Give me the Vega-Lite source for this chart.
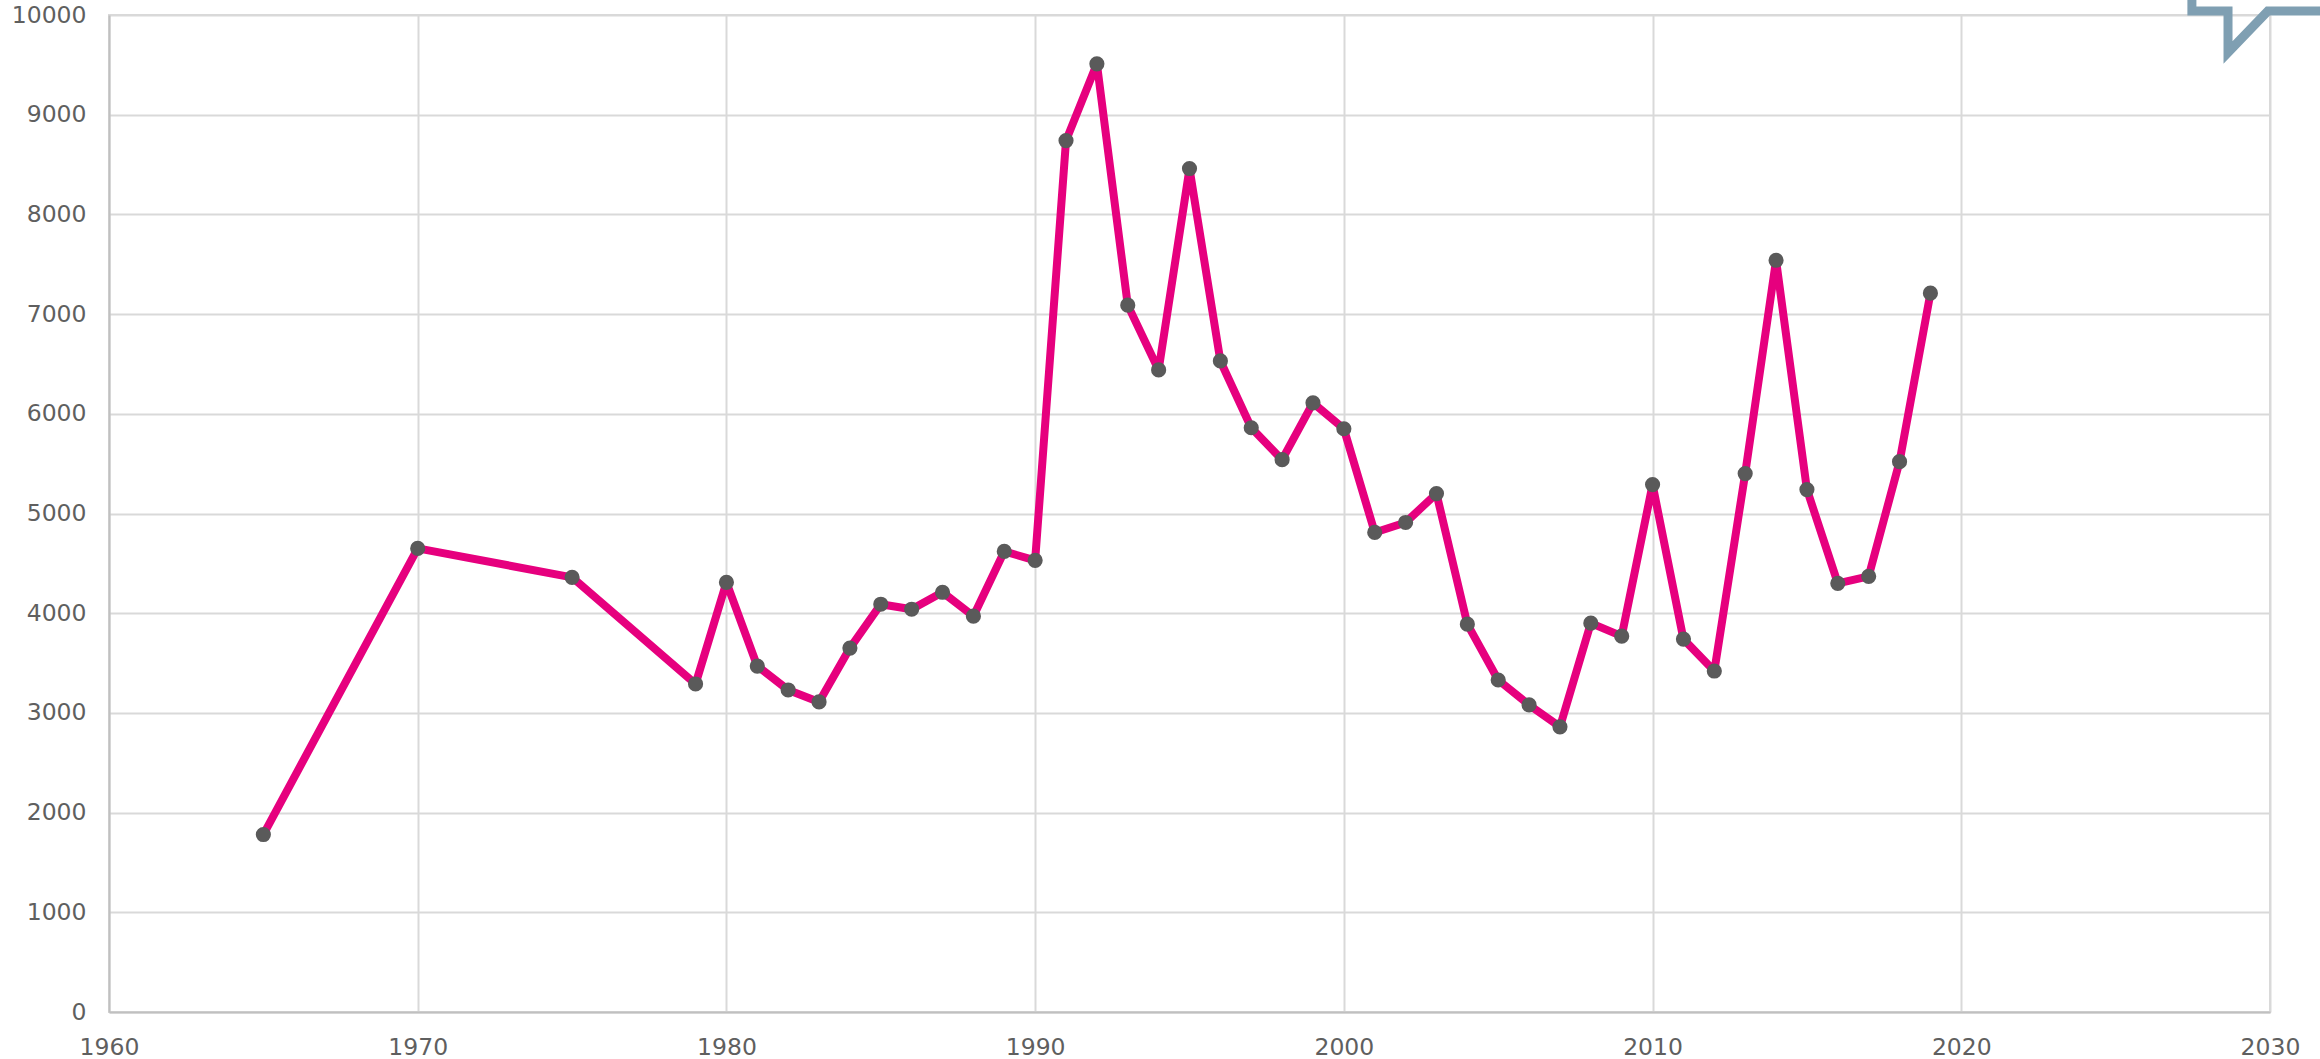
{"$schema":"https://vega.github.io/schema/vega-lite/v6.json","width":2161,"height":997,"autosize":"none","padding":{"left":109,"top":15,"right":50,"bottom":47},"background":"white","config":{"view":{"stroke":"#d9d9d9","strokeWidth":2}},"datasets":{"series":[{"year":1965,"value":1780},{"year":1970,"value":4650},{"year":1975,"value":4360},{"year":1979,"value":3290},{"year":1980,"value":4310},{"year":1981,"value":3470},{"year":1982,"value":3230},{"year":1983,"value":3110},{"year":1984,"value":3650},{"year":1985,"value":4090},{"year":1986,"value":4040},{"year":1987,"value":4210},{"year":1988,"value":3970},{"year":1989,"value":4620},{"year":1990,"value":4530},{"year":1991,"value":8740},{"year":1992,"value":9510},{"year":1993,"value":7090},{"year":1994,"value":6440},{"year":1995,"value":8460},{"year":1996,"value":6530},{"year":1997,"value":5860},{"year":1998,"value":5540},{"year":1999,"value":6110},{"year":2000,"value":5850},{"year":2001,"value":4810},{"year":2002,"value":4910},{"year":2003,"value":5200},{"year":2004,"value":3890},{"year":2005,"value":3330},{"year":2006,"value":3080},{"year":2007,"value":2860},{"year":2008,"value":3900},{"year":2009,"value":3770},{"year":2010,"value":5290},{"year":2011,"value":3740},{"year":2012,"value":3420},{"year":2013,"value":5400},{"year":2014,"value":7540},{"year":2015,"value":5240},{"year":2016,"value":4300},{"year":2017,"value":4370},{"year":2018,"value":5520},{"year":2019,"value":7210}],"logo":[{"order":1,"year":2027.47,"value":10150},{"order":2,"year":2027.47,"value":10040},{"order":3,"year":2028.64,"value":10040},{"order":4,"year":2028.64,"value":9624},{"order":5,"year":2029.93,"value":10040},{"order":6,"year":2031.62,"value":10040}]},"data":{"name":"series"},"layer":[{"mark":{"type":"line","color":"#e6007e","strokeWidth":8,"strokeJoin":"round","clip":false},"encoding":{"x":{"field":"year","type":"quantitative","scale":{"domain":[1960,2030],"nice":false,"zero":false},"axis":{"values":[1960,1970,1980,1990,2000,2010,2020,2030],"format":"d","title":null,"grid":true,"gridColor":"#d9d9d9","gridWidth":2,"domainColor":"#c0c0c0","domainWidth":2,"ticks":false,"labelPadding":23,"labelFont":"DejaVu Sans","labelFontSize":23.5,"labelColor":"#5f5f5f","labelOverlap":false,"labelFlush":false}},"y":{"field":"value","type":"quantitative","scale":{"domain":[0,10000],"nice":false},"axis":{"values":[0,1000,2000,3000,4000,5000,6000,7000,8000,9000,10000],"format":"d","title":null,"grid":true,"gridColor":"#d9d9d9","gridWidth":2,"domainColor":"#c0c0c0","domainWidth":2,"ticks":false,"labelPadding":23,"labelFont":"DejaVu Sans","labelFontSize":23.5,"labelColor":"#5f5f5f","labelOverlap":false,"labelFlush":false}}}},{"mark":{"type":"circle","color":"#5a5a5a","opacity":1,"size":230,"clip":false},"encoding":{"x":{"field":"year","type":"quantitative"},"y":{"field":"value","type":"quantitative"}}},{"data":{"name":"logo"},"mark":{"type":"line","color":"#7f9fb2","strokeWidth":9,"strokeJoin":"miter","strokeMiterLimit":10,"clip":false},"encoding":{"x":{"field":"year","type":"quantitative"},"y":{"field":"value","type":"quantitative"},"order":{"field":"order"}}}]}
